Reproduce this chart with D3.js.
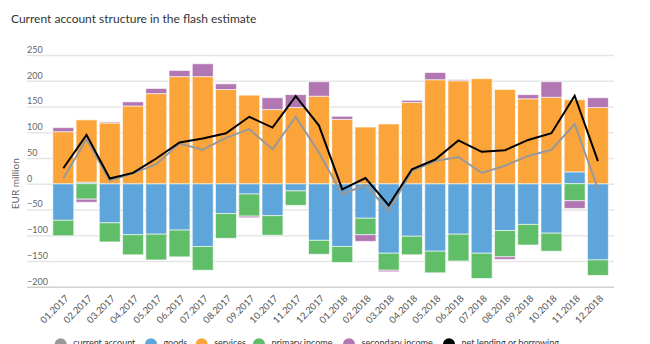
<!DOCTYPE html>
<html>
<head>
<meta charset="utf-8">
<script src="https://d3js.org/d3.v7.min.js"></script>
<style>
  body { margin: 0; background: #fff; }
  svg { display: block; font-family: Lato, "Open Sans", sans-serif; }
</style>
</head>
<body>
<div id="chart"></div>
<script>
var months = ["01.2017", "02.2017", "03.2017", "04.2017", "05.2017", "06.2017",
  "07.2017", "08.2017", "09.2017", "10.2017", "11.2017", "12.2017",
  "01.2018", "02.2018", "03.2018", "04.2018", "05.2018", "06.2018",
  "07.2018", "08.2018", "09.2018", "10.2018", "11.2018", "12.2018"];

var goods = [-71, 3, -76, -99, -98, -90, -122, -58, -20, -62, -14, -110,
  -122, -67, -135, -102, -131, -98, -135, -91, -79, -96, 23, -148];
var services = [101, 121, 118, 151, 175, 208, 208, 183, 172, 144, 148, 170,
  125, 110, 116, 158, 202, 200, 204, 183, 165, 168, 140, 148];
var primaryIncome = [-30, -30, -37, -39, -50, -52, -46, -48, -43, -38, -28, -27,
  -31, -32, -33, -36, -42, -52, -49, -51, -40, -35, -33, -30];
var secondaryIncome = [8, -6, 2, 8, 10, 12, 25, 11, -3, 23, 25, 28,
  6, -13, -3, 4, 14, 2, 0, -5, 8, 30, -15, 19];

var currentAccount = [10, 87, 6, 20, 38, 78, 66, 89, 106, 67, 130, 60,
  -21, -2, -53, 25, 44, 52, 21, 35, 54, 66, 116, -10];
var netLending = [30, 95, 10, 21, 49, 80, 88, 98, 130, 109, 170, 113,
  -11, 11, -42, 28, 47, 84, 62, 65, 85, 98, 171, 44];

var yTicks = [-200, -150, -100, -50, 0, 50, 100, 150, 200, 250];

var seriesKeys = ["goods", "services", "primary income", "secondary income"];
var seriesColors = {
  "current account": "#999999",
  "goods": "#5DA5DA",
  "services": "#FAA43A",
  "primary income": "#60BD68",
  "secondary income": "#B276B2",
  "net lending or borrowing": "#000000"
};
var legendItems = ["current account", "goods", "services", "primary income",
  "secondary income", "net lending or borrowing"];

var svgWidth = 650;
var svgHeight = 344;

var plot = { left: 50.5, right: 610.7, top: 55, bottom: 286.7 };

var svg = d3.select("#chart")
  .append("svg")
  .attr("width", svgWidth)
  .attr("height", svgHeight);

// table of rows for the stack
var rows = months.map(function(m, i) {
  return {
    month: m,
    "goods": goods[i],
    "services": services[i],
    "primary income": primaryIncome[i],
    "secondary income": secondaryIncome[i]
  };
});

// scales
var xScale = d3.scaleBand()
  .domain(months)
  .range([plot.left, plot.right])
  .padding(0.1);

var yScale = d3.scaleLinear()
  .domain([-200, 250])
  .range([plot.bottom, plot.top]);

// title
svg.append("text")
  .attr("x", 11)
  .attr("y", 23)
  .attr("fill", "#333")
  .attr("font-size", "12px")
  .text("Current account structure in the flash estimate");

// y grid + labels sitting above each line
var yAxis = d3.axisLeft(yScale)
  .tickValues(yTicks)
  .tickSize(-(614 - 27))
  .tickFormat(d3.format("d"));

var yAxisGroup = svg.append("g")
  .attr("transform", "translate(27,0)")
  .call(yAxis);

yAxisGroup.select(".domain").remove();
yAxisGroup.selectAll(".tick line")
  .attr("stroke", function(d) { return d === -200 ? "#d0d0d0" : "#e6e6e6"; })
  .attr("stroke-width", 1.5);
yAxisGroup.selectAll(".tick text")
  .attr("x", 0)
  .attr("dy", "-2.5")
  .attr("text-anchor", "start")
  .attr("fill", "#666")
  .attr("font-family", "Lato, sans-serif")
  .attr("font-size", "9px");

// y axis title
svg.append("text")
  .attr("transform", "translate(19," + yScale(0) + ") rotate(-90)")
  .attr("text-anchor", "middle")
  .attr("fill", "#666")
  .attr("font-size", "10px")
  .text("EUR million");

// stacked bars, positives up and negatives down
var stack = d3.stack()
  .keys(seriesKeys)
  .offset(d3.stackOffsetDiverging);

var stacked = stack(rows);

svg.append("g")
  .selectAll("g")
  .data(stacked)
  .enter()
  .append("g")
  .attr("fill", function(s) { return seriesColors[s.key]; })
  .selectAll("rect")
  .data(function(s) { return s; })
  .enter()
  .append("rect")
  .attr("x", function(d) { return xScale(d.data.month); })
  .attr("width", xScale.bandwidth())
  .attr("y", function(d) { return yScale(Math.max(d[0], d[1])); })
  .attr("height", function(d) { return Math.abs(yScale(d[0]) - yScale(d[1])); })
  .attr("stroke", "#fff")
  .attr("stroke-opacity", 0.6)
  .attr("stroke-width", 1);

// lines through the bar centres
var line = d3.line()
  .x(function(d, i) { return xScale(months[i]) + xScale.bandwidth() / 2; })
  .y(function(d) { return yScale(d); });

svg.append("path")
  .datum(currentAccount)
  .attr("fill", "none")
  .attr("stroke", seriesColors["current account"])
  .attr("stroke-width", 2)
  .attr("d", line);

svg.append("path")
  .datum(netLending)
  .attr("fill", "none")
  .attr("stroke", seriesColors["net lending or borrowing"])
  .attr("stroke-width", 2)
  .attr("d", line);

// rotated month labels
svg.append("g")
  .selectAll("text")
  .data(months)
  .enter()
  .append("text")
  .attr("transform", function(m) {
    var x = xScale(m) + xScale.bandwidth() / 2 + 6;
    return "translate(" + x + ",299) rotate(-45)";
  })
  .attr("text-anchor", "end")
  .attr("fill", "#555")
  .attr("font-size", "9.5px")
  .text(function(m) { return m; });

// legend along the bottom edge
var legendX = [60.7, 151, 201.7, 259, 349, 449];

var legend = svg.append("g")
  .selectAll("g")
  .data(legendItems)
  .enter()
  .append("g")
  .attr("transform", function(d, i) { return "translate(" + legendX[i] + ",344.3)"; });

legend.append("circle")
  .attr("r", 6)
  .attr("fill", function(d) { return seriesColors[d]; });

legend.append("text")
  .attr("x", 12.5)
  .attr("y", 1.5)
  .attr("fill", "#333")
  .attr("font-size", "9px")
  .text(function(d) { return d; });
</script>
</body>
</html>
